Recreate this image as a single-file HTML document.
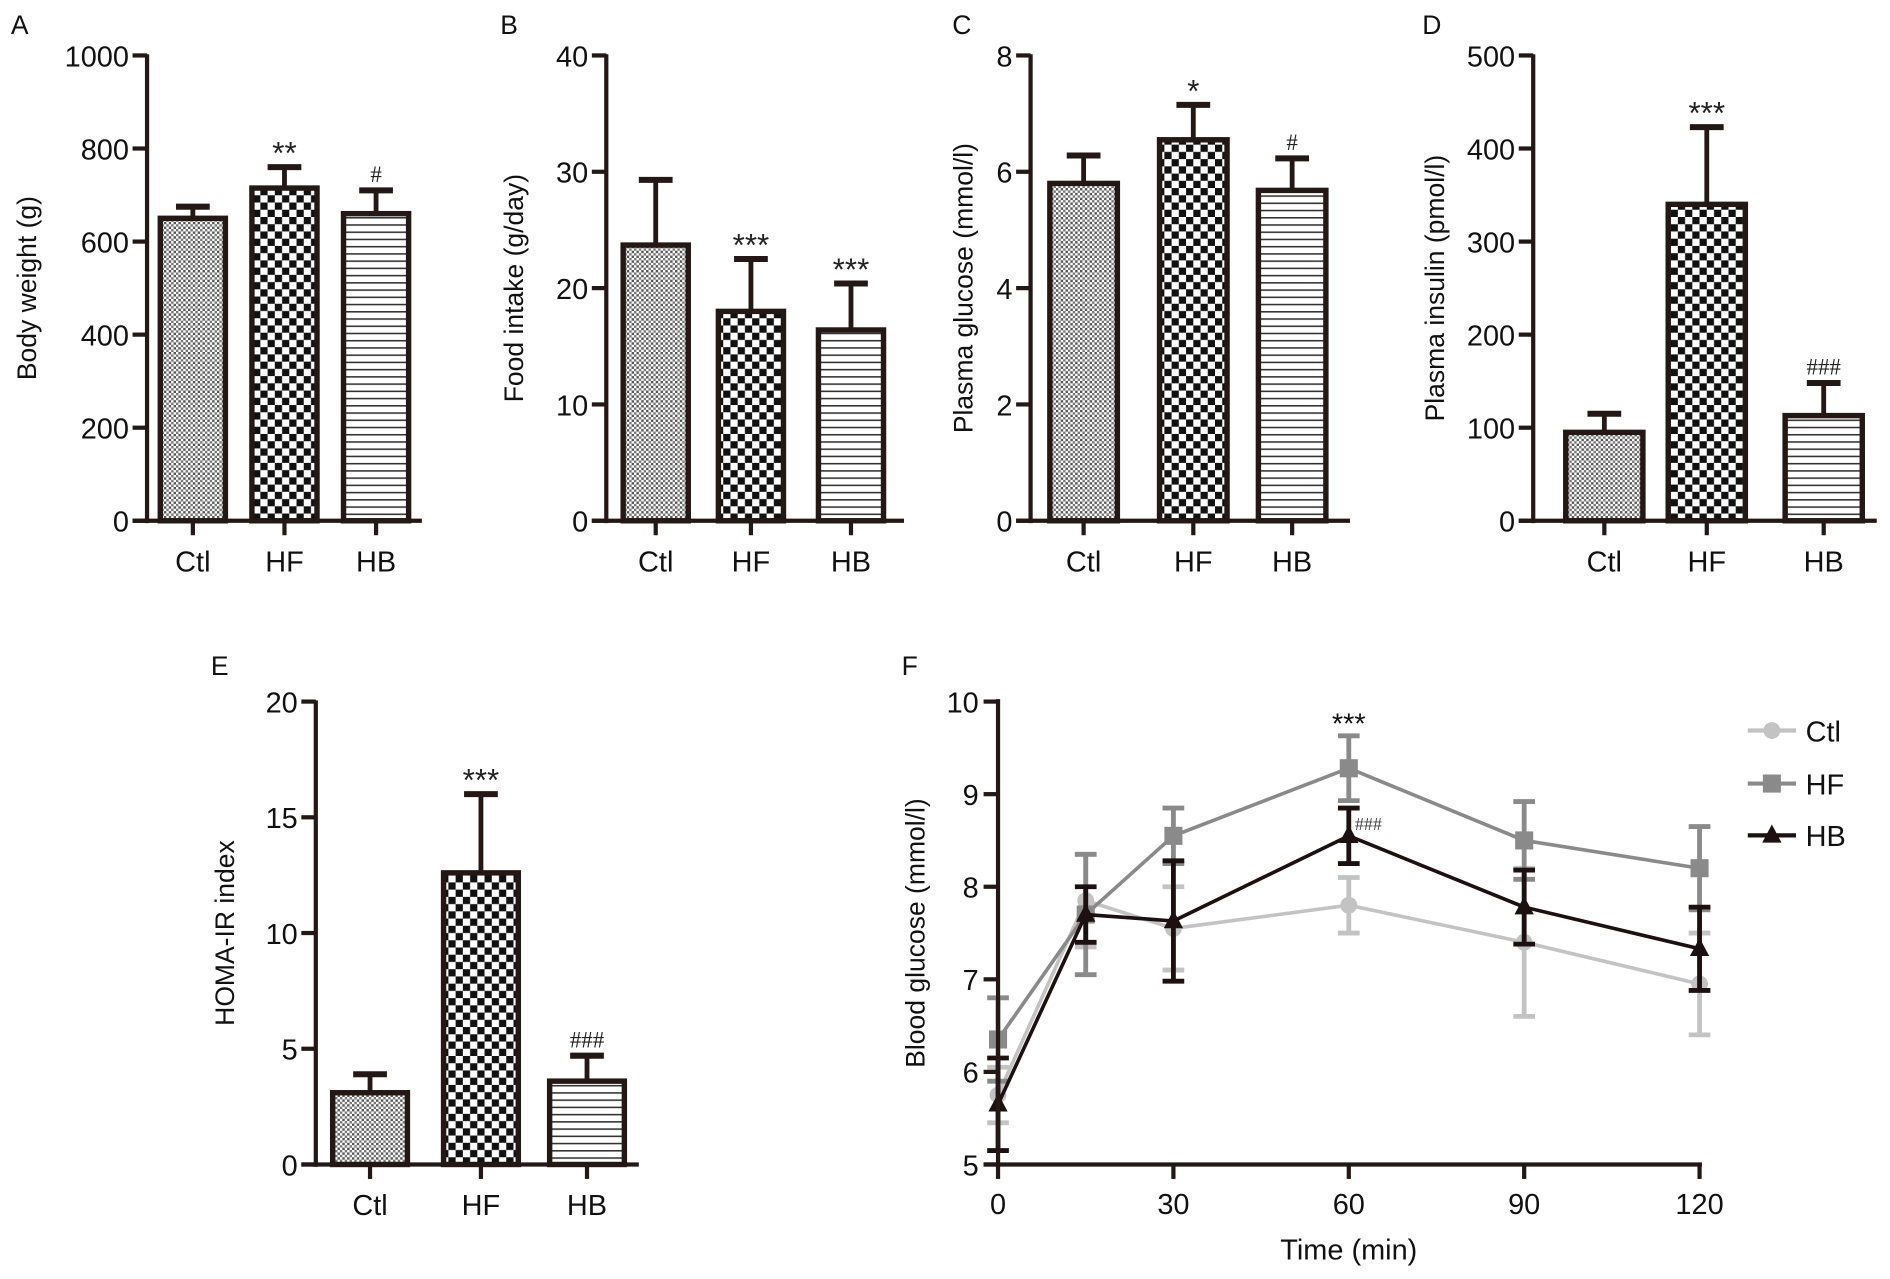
<!DOCTYPE html>
<html><head><meta charset="utf-8"><style>
html,body{margin:0;padding:0;background:#fff;}
svg{display:block;font-family:"Liberation Sans",Arial,sans-serif;}
</style></head><body>
<svg id="fig" width="1890" height="1279" viewBox="0 0 1568 1061" preserveAspectRatio="none">
<defs>
<pattern id="pCtl" width="4" height="4" patternUnits="userSpaceOnUse"><rect width="4" height="4" fill="#fff"/><rect width="2" height="2" fill="#555"/><rect x="2" y="2" width="2" height="2" fill="#777"/></pattern>
<pattern id="pHF" width="12" height="12" patternUnits="userSpaceOnUse"><rect width="12" height="12" fill="#fff"/><rect width="6" height="6" fill="#111"/><rect x="6" y="6" width="6" height="6" fill="#111"/></pattern>
<pattern id="pHB" width="6" height="6" patternUnits="userSpaceOnUse"><rect width="6" height="6" fill="#fff"/><rect y="0" width="6" height="1.3" fill="#333"/></pattern>
</defs>
</svg>
<script>
const groups=["Ctl","HF","HB"];
const bwMean=[650,715,660], bwErr=[25,45,50];
const fiMean=[23.7,18.0,16.4], fiErr=[5.6,4.5,4.0];
const pgMean=[5.8,6.55,5.68], pgErr=[0.48,0.6,0.55];
const piMean=[95,340,113], piErr=[20,83,35];
const hoMean=[3.1,12.6,3.6], hoErr=[0.8,3.4,1.1];
const bwSig=["","**","#"], fiSig=["","***","***"], pgSig=["","*","#"], piSig=["","***","###"], hoSig=["","***","###"];
const times=[0,15,30,60,90,120];
const ctlG=[5.75,7.85,7.55,7.8,7.4,6.95], ctlE=[0.3,0.5,0.45,0.3,0.8,0.55];
const hfG=[6.35,7.7,8.55,9.28,8.5,8.2], hfE=[0.45,0.65,0.3,0.35,0.42,0.45];
const hbG=[5.65,7.7,7.63,8.55,7.78,7.33], hbE=[0.5,0.3,0.65,0.3,0.4,0.45];
const yTicksBW=[0,200,400,600,800,1000], yTicksFI=[0,10,20,30,40], yTicksPG=[0,2,4,6,8], yTicksPI=[0,100,200,300,400,500], yTicksHO=[0,5,10,15,20];
const fTicksX=[0,30,60,90,120], fTicksY=[5,6,7,8,9,10];

const svg=document.getElementById('fig');
const NS="http://www.w3.org/2000/svg";
const DARK="#231815";
const FS=24;
function mk(tag,at,parent){const e=document.createElementNS(NS,tag);for(const k in at)e.setAttribute(k,at[k]);(parent||svg).appendChild(e);return e;}
function txt(s,at,parent){const e=mk('text',at,parent);e.textContent=s;return e;}

function barPanel(o){
  const g=mk('g',{});
  
  
  const y=v=>o.y0-(v-o.ymin)/(o.ymax-o.ymin)*(o.y0-o.y1);
  const pats=['pCtl','pHF','pHB'];
  const l=txt(o.letter,{x:o.lx,y:o.ly,'font-size':22,fill:'#111'},g);
  
  
  for(let i=0;i<3;i++){
    const cx=o.cx[i], w=o.bw, m=o.mean[i], e=o.err[i];
    const eb=mk('line',{x1:cx,x2:cx,y1:y(m),y2:y(m+e),stroke:DARK,'stroke-width':4},g);
    
    
    mk('line',{x1:cx-14,x2:cx+14,y1:y(m+e),y2:y(m+e),stroke:DARK,'stroke-width':5},g);
    const r=mk('rect',{x:cx-w/2,y:y(m),width:w,height:y(o.ymin)-y(m),fill:'url(#'+pats[i]+')',stroke:DARK,'stroke-width':4.5},g);
    
    
    if(o.sig[i]){
      const isHash=o.sig[i][0]==='#';
      const s=txt(o.sig[i],{x:cx,y:y(m+e)-(isHash?7:3),'text-anchor':'middle','font-size':isHash?19:26,fill:'#222','font-family':isHash?'"Liberation Serif",serif':'"Liberation Sans",sans-serif'},g);
      
      
    }
    mk('line',{x1:cx,x2:cx,y1:o.y0,y2:o.y0+12,stroke:DARK,'stroke-width':3.5},g);
    const c=txt(groups[i],{x:cx,y:o.y0+42,'text-anchor':'middle','font-size':FS,fill:'#111'},g);
    
    
  }
  mk('line',{x1:o.ax,x2:o.ax,y1:o.y1-1,y2:o.y0+2,stroke:DARK,'stroke-width':3.5},g);
  mk('line',{x1:o.ax-12,x2:o.axEnd,y1:o.y0,y2:o.y0,stroke:DARK,'stroke-width':3.5},g);
  o.ticks.forEach(t=>{
    mk('line',{x1:o.ax-12,x2:o.ax,y1:y(t),y2:y(t),stroke:DARK,'stroke-width':3.5},g);
    const tl=txt(String(t),{x:o.ax-15,y:y(t)+9,'text-anchor':'end','font-size':FS,fill:'#111'},g);
    
    
  });
  const mid=(o.y0+o.y1)/2;
  const yt=txt(o.title,{x:o.tx,y:mid,'text-anchor':'middle','font-size':22,fill:'#111',transform:`rotate(-90 ${o.tx} ${mid})`},g);
  
  
}

barPanel({name:'panel-a-body-weight',letter:'A',lx:9,ly:28,ax:122,axEnd:350,y0:432,y1:46,ymin:0,ymax:1000,cx:[160,236,312],bw:54,mean:bwMean,err:bwErr,sig:bwSig,ticks:yTicksBW,title:'Body weight (g)',tx:30});
barPanel({name:'panel-b-food-intake',letter:'B',lx:415,ly:28,ax:503,axEnd:750,y0:432,y1:46,ymin:0,ymax:40,cx:[544,623,706],bw:54,mean:fiMean,err:fiErr,sig:fiSig,ticks:yTicksFI,title:'Food intake (g/day)',tx:434});
barPanel({name:'panel-c-plasma-glucose',letter:'C',lx:790,ly:28,ax:855,axEnd:1120,y0:432,y1:46,ymin:0,ymax:8,cx:[899,990,1072],bw:56,mean:pgMean,err:pgErr,sig:pgSig,ticks:yTicksPG,title:'Plasma glucose (mmol/l)',tx:807});
barPanel({name:'panel-d-plasma-insulin',letter:'D',lx:1180,ly:28,ax:1272,axEnd:1557,y0:432,y1:46,ymin:0,ymax:500,cx:[1331,1416,1513],bw:64,mean:piMean,err:piErr,sig:piSig,ticks:yTicksPI,title:'Plasma insulin (pmol/l)',tx:1198});
barPanel({name:'panel-e-homa-ir',letter:'E',lx:175,ly:560,ax:262,axEnd:530,y0:966,y1:582,ymin:0,ymax:20,cx:[307,399,487],bw:62,mean:hoMean,err:hoErr,sig:hoSig,ticks:yTicksHO,title:'HOMA-IR index',tx:194});

// Panel F
const gF=mk('g',{});


const fx=t=>828+t/120*(1410-828);
const fy=v=>966-(v-5)/5*(966-582);
const lf=txt('F',{x:748,y:560,'font-size':22,fill:'#111'},gF);


const series=[
 {n:'ctl',vals:ctlG,errs:ctlE,col:'#c3c3c3',m:'circle'},
 {n:'hf',vals:hfG,errs:hfE,col:'#8a8a8a',m:'square'},
 {n:'hb',vals:hbG,errs:hbE,col:'#1c1010',m:'tri'}
];
function marker(type,x,y,col,p){
  if(type==='circle')return mk('circle',{cx:x,cy:y,r:7,fill:col},p);
  if(type==='square')return mk('rect',{x:x-7.5,y:y-7.5,width:15,height:15,fill:col},p);
  return mk('polygon',{points:`${x},${y-9} ${x-8},${y+6} ${x+8},${y+6}`,fill:col},p);
}
series.forEach(s=>{
  const sg=mk('g',{},gF);
  
  
  times.forEach((t,i)=>{
    const x=fx(t),v=s.vals[i],e=s.errs[i];
    mk('line',{x1:x,x2:x,y1:fy(v-e),y2:fy(v+e),stroke:s.col,'stroke-width':4},sg);
    mk('line',{x1:x-9,x2:x+9,y1:fy(v-e),y2:fy(v-e),stroke:s.col,'stroke-width':4},sg);
    mk('line',{x1:x-9,x2:x+9,y1:fy(v+e),y2:fy(v+e),stroke:s.col,'stroke-width':4},sg);
  });
  const pts=times.map((t,i)=>fx(t)+','+fy(s.vals[i])).join(' ');
  const pl=mk('polyline',{points:pts,fill:'none',stroke:s.col,'stroke-width':3},sg);
  
  
  times.forEach((t,i)=>{
    const mm=marker(s.m,fx(t),fy(s.vals[i]),s.col,sg);
    
    
  });
});
const s1=txt('***',{x:fx(60),y:fy(hfG[3]+hfE[3])-2,'text-anchor':'middle','font-size':24,fill:'#111'},gF);


const s2=txt('###',{x:fx(60)+5,y:fy(hbG[3])-5,'font-size':15,fill:'#444','font-family':'"Liberation Serif",serif'},gF);


mk('line',{x1:828,x2:828,y1:580,y2:968,stroke:DARK,'stroke-width':3.5},gF);
mk('line',{x1:816,x2:1412,y1:966,y2:966,stroke:DARK,'stroke-width':3.5},gF);
fTicksY.forEach(v=>{
  mk('line',{x1:816,x2:828,y1:fy(v),y2:fy(v),stroke:DARK,'stroke-width':3.5},gF);
  const tl=txt(String(v),{x:812,y:fy(v)+9,'text-anchor':'end','font-size':FS,fill:'#111'},gF);
  
  
});
fTicksX.forEach(t=>{
  mk('line',{x1:fx(t),x2:fx(t),y1:966,y2:978,stroke:DARK,'stroke-width':3.5},gF);
  const tl=txt(String(t),{x:fx(t),y:1007,'text-anchor':'middle','font-size':FS,fill:'#111'},gF);
  
  
});
const xt=txt('Time (min)',{x:1119,y:1045,'text-anchor':'middle','font-size':FS,fill:'#111'},gF);


const ym=(966+582)/2;
const yt=txt('Blood glucose (mmol/l)',{x:767,y:ym,'text-anchor':'middle','font-size':22,fill:'#111',transform:`rotate(-90 767 ${ym})`},gF);


const legY=[606,650,693];
series.forEach((s,i)=>{
  const lg=mk('g',{},gF);
  
  
  mk('line',{x1:1450,x2:1490,y1:legY[i],y2:legY[i],stroke:s.col,'stroke-width':3.5},lg);
  marker(s.m,1470,legY[i],s.col,lg);
  txt(groups[i],{x:1498,y:legY[i]+9,'font-size':FS,fill:'#111'},lg);
});
</script>
</body></html>
